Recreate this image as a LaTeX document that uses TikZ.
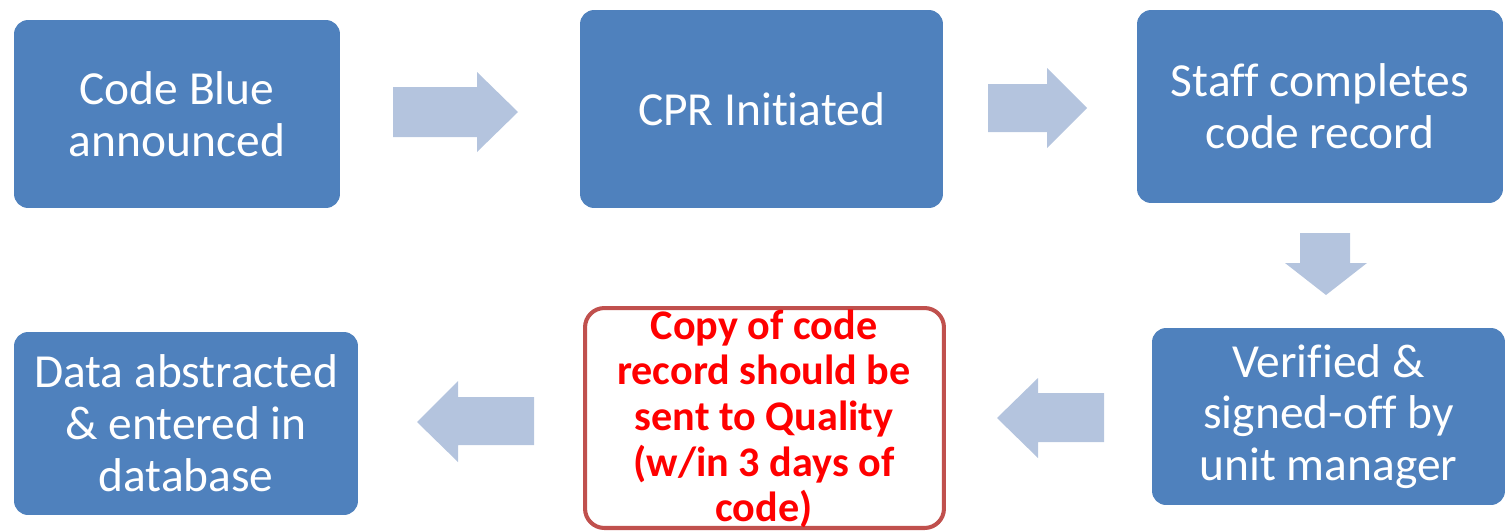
\documentclass[tikz,border=0pt]{standalone}
\usepackage{fontspec}
\setmainfont{Carlito}[Ligatures=CommonOff]
\usepackage{xcolor}
\usetikzlibrary{positioning,calc}
\definecolor{stepblue}{RGB}{79,129,189}
\definecolor{arrowblue}{RGB}{180,196,222}
\definecolor{qualityred}{RGB}{192,80,77}
\definecolor{alertred}{RGB}{255,0,0}

\begin{document}
\begin{tikzpicture}[
    x=0.02cm, y=-0.02cm,
    stepbox/.style={fill=stepblue, rounded corners=8pt, inner sep=0pt,
        text=white, align=center, font=\fontsize{27}{29.5}\selectfont},
    qualitybox/.style={draw=qualityred, line width=2.3pt, fill=white,
        rounded corners=11pt, inner sep=0pt},
    qualitytext/.style={text=alertred, align=center, inner sep=0pt,
        font=\fontsize{24}{26}\selectfont\bfseries},
    blockarrow/.style={fill=arrowblue}
]

% Canvas
\useasboundingbox (0,0) rectangle (1505,531);

% === Top row ===
\node[stepbox, minimum width=6.52cm, minimum height=3.76cm] (codeblue) at (177,114)
    {Code Blue\\announced};
\node[stepbox, minimum width=7.26cm, minimum height=3.96cm] (cpr) at (761.5,109)
    {CPR Initiated};
\node[stepbox, minimum width=7.32cm, minimum height=3.86cm] (record) at (1320,106.5)
    {Staff completes\\code record};

% === Bottom row ===
\node[stepbox, minimum width=7.06cm, minimum height=3.54cm] (verified) at (1328.5,416.5)
    {Verified \&\\signed-off by\\unit manager};
\node[qualitybox, minimum width=7.18cm, minimum height=4.4cm] (quality) at (764.5,418) {};
\node[qualitytext] (qualitynote) at (764,419)
    {Copy of code\\record should be\\sent to Quality\\(w/in 3 days of\\code)};
\node[stepbox, minimum width=6.88cm, minimum height=3.66cm] (abstract) at (186,423.5)
    {Data abstracted\\\& entered in\\database};

% Block arrows: code blue -> CPR -> record
\fill[blockarrow] (393,87) -- (477,87) -- (477,72) -- (518,112)
    -- (477,152) -- (477,137) -- (393,137) -- cycle;
\fill[blockarrow] (988,84) -- (1047,84) -- (1047,68) -- (1087,108)
    -- (1047,148) -- (1047,132) -- (988,132) -- cycle;

% record -> verified
\fill[blockarrow] (1300,233) -- (1350,233) -- (1350,263) -- (1367,263)
    -- (1326,295) -- (1285,263) -- (1300,263) -- cycle;

% verified -> quality -> abstract
\fill[blockarrow] (1104,393) -- (1038,393) -- (1038,378) -- (997,418)
    -- (1038,458) -- (1038,442) -- (1104,442) -- cycle;
\fill[blockarrow] (534,397) -- (458,397) -- (458,381) -- (417,422)
    -- (458,462) -- (458,445) -- (534,445) -- cycle;

\end{tikzpicture}
\end{document}
